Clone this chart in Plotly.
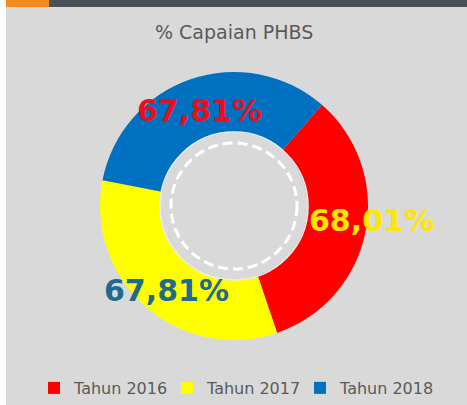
import plotly.graph_objects as go

W, H = 467, 405

categories = ["Tahun 2016", "Tahun 2017", "Tahun 2018"]
values = [68.01, 67.81, 67.81]
value_labels = ["68,01%", "67,81%", "67,81%"]
slice_colors = ["#FF0000", "#FFFF00", "#0070C0"]
label_colors = ["#FFE600", "#1F6A8E", "#E8101E"]
title_text = "% Capaian PHBS"

def px(x):
    return x / W

def py(y):
    return 1 - y / H

cx, cy, R = 234, 206, 134

fig = go.Figure()
fig.add_trace(go.Pie(
    labels=categories,
    values=values,
    sort=False,
    direction="clockwise",
    rotation=41,
    hole=0.55,
    textinfo="none",
    hoverinfo="label+value",
    marker=dict(colors=slice_colors, line=dict(width=0)),
    domain=dict(x=[px(cx - R), px(cx + R)], y=[py(cy + R), py(cy - R)]),
    showlegend=True,
))

# label positions (text placement, pixels)
label_pos = [(371, 220), (166, 290), (199, 110)]
annotations = []
for (lx, ly), txt, col in zip(label_pos, value_labels, label_colors):
    annotations.append(dict(
        x=px(lx), y=py(ly), xref="paper", yref="paper",
        text="<b>%s</b>" % txt, showarrow=False,
        font=dict(family="DejaVu Sans", size=30, color=col),
        xanchor="center", yanchor="middle",
    ))
annotations.append(dict(
    x=px(234), y=py(32), xref="paper", yref="paper",
    text=title_text, showarrow=False,
    font=dict(family="DejaVu Sans", size=19, color="#595959"),
    xanchor="center", yanchor="middle",
))

shapes = [
    dict(type="rect", xref="paper", yref="paper", x0=0, x1=px(6), y0=0, y1=1,
         fillcolor="#FFFFFF", line=dict(width=0), layer="below"),
    dict(type="rect", xref="paper", yref="paper", x0=px(6), x1=px(49), y0=py(7), y1=1,
         fillcolor="#F58A1F", line=dict(width=0), layer="below"),
    dict(type="rect", xref="paper", yref="paper", x0=px(49), x1=1, y0=py(7), y1=1,
         fillcolor="#4A5057", line=dict(width=0), layer="below"),
    dict(type="circle", xref="paper", yref="paper",
         x0=px(cx - 74), x1=px(cx + 74), y0=py(cy + 74), y1=py(cy - 74),
         line=dict(color="#E6EDF5", width=1.5)),
    dict(type="circle", xref="paper", yref="paper",
         x0=px(cx - 63), x1=px(cx + 63), y0=py(cy + 63), y1=py(cy - 63),
         line=dict(color="#FFFFFF", width=3, dash="10px,5px")),
]

fig.update_layout(
    width=W, height=H,
    margin=dict(l=0, r=0, t=0, b=0),
    paper_bgcolor="#D9D9D9",
    plot_bgcolor="#D9D9D9",
    annotations=annotations,
    shapes=shapes,
    legend=dict(
        orientation="h", x=px(34), xanchor="left", y=0, yanchor="bottom",
        font=dict(family="DejaVu Sans", size=16, color="#595959"),
        bgcolor="rgba(0,0,0,0)", itemwidth=30,
        entrywidth=88, entrywidthmode="pixels",
        traceorder="normal",
    ),
)

fig.write_html("out.html", config={"displayModeBar": False},
               post_script="document.body.style.margin='0';")
